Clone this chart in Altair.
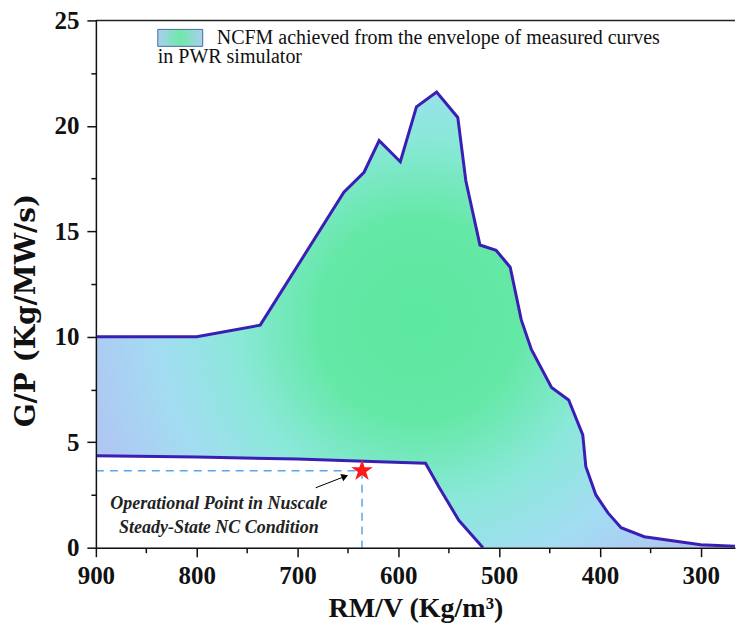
import altair as alt
import pandas as pd

# Upper envelope of the NCFM region (RM/V, G/P)
upper_x = [900, 800, 737, 654, 634, 619, 598, 582, 562, 541, 533, 519, 503, 489, 478, 468, 448, 431, 417, 414, 404, 392, 379, 356, 300, 260]
upper_y = [10.0, 10.0, 10.55, 16.85, 17.8, 19.3, 18.3, 20.9, 21.6, 20.4, 17.4, 14.35, 14.1, 13.3, 10.8, 9.4, 7.6, 7.0, 5.35, 3.85, 2.5, 1.65, 0.95, 0.52, 0.14, 0.05]

# Lower envelope
lower_x = [900, 800, 700, 619, 573, 560, 540, 516]
lower_y = [4.36, 4.3, 4.2, 4.07, 4.0, 2.9, 1.3, 0.0]

# Operational point
op_x = [636]
op_y = [3.65]

# Arrow (tail -> head)
arrow_x = [682, 654]
arrow_y = [2.84, 3.36]

annot_lines = ["Operational Point in Nuscale", "Steady-State NC Condition"]
legend_line1 = "NCFM achieved from the envelope of measured curves"
legend_line2 = "in PWR simulator"

x_ticks = [900, 800, 700, 600, 500, 400, 300]
x_minor = [850, 750, 650, 550, 450, 350]
y_ticks = [0, 5, 10, 15, 20, 25]
y_minor = [2.5, 7.5, 12.5, 17.5, 22.5]

W, H = 640, 528
OUTLINE = "#3b1fb5"
SERIF = "Liberation Serif"

up_df = pd.DataFrame({"x": upper_x, "y": upper_y, "z": [0.0] * len(upper_x)})
lo_df = pd.DataFrame({"x": lower_x, "y": lower_y, "z": [0.0] * len(lower_x)})
op_df = pd.DataFrame({"x": op_x, "y": op_y, "x0": [900], "z": [0.0]})
arr_df = pd.DataFrame({"x": arrow_x, "y": arrow_y, "o": [0, 1]})

xscale = alt.Scale(domain=[266, 900], reverse=True, nice=False, zero=False)
yscale = alt.Scale(domain=[0, 25], nice=False, zero=False)

major_x_axis = alt.Axis(values=x_ticks, title="RM/V (Kg/m³)", format="d", grid=False, labelFlush=False,
                        tickSize=9, labelPadding=7, titlePadding=6, zindex=2)
major_y_axis = alt.Axis(values=y_ticks, title="G/P (Kg/MW/s)", grid=False, labelFlush=False,
                        tickSize=9, labelPadding=8, titlePadding=13, zindex=2,
                        titleFont="DejaVu Serif", titleFontSize=28, titleY=290)


def X(field="x", ax=None):
    return alt.X(f"{field}:Q", scale=xscale, axis=ax)


def Y(field="y", ax=None):
    return alt.Y(f"{field}:Q", scale=yscale, axis=ax)


grad = alt.RadialGradient(
    gradient="radial",
    stops=[
        alt.GradientStop(color="#5ce89e", offset=0.0),
        alt.GradientStop(color="#64e8a6", offset=0.3),
        alt.GradientStop(color="#8be8da", offset=0.55),
        alt.GradientStop(color="#a3dcf2", offset=0.78),
        alt.GradientStop(color="#afc8f2", offset=1.0),
    ],
    x1=0.5, y1=0.5, r1=0.0, x2=0.5, y2=0.5, r2=0.52,
)

fill_area = alt.Chart(up_df).mark_area(fill=grad, clip=True).encode(
    x=X(ax=major_x_axis), y=Y(ax=major_y_axis), y2=alt.Y2("z:Q")
)
white_area = alt.Chart(lo_df).mark_area(fill="white", clip=True).encode(
    x=X(), y=Y(), y2=alt.Y2("z:Q")
)
up_line = alt.Chart(up_df).mark_line(color=OUTLINE, strokeWidth=3, clip=True).encode(x=X(), y=Y())
lo_line = alt.Chart(lo_df).mark_line(color=OUTLINE, strokeWidth=3, clip=True).encode(x=X(), y=Y())

h_dash = alt.Chart(op_df).mark_rule(color="#5aa6e6", strokeDash=[8, 6], strokeWidth=1.5).encode(
    x=X("x0"), x2=alt.X2("x:Q"), y=Y()
)
v_dash = alt.Chart(op_df).mark_rule(color="#5aa6e6", strokeDash=[8, 6], strokeWidth=1.5).encode(
    x=X(), y=Y(), y2=alt.Y2("z:Q")
)

star_path = "M0,-1L0.2245,-0.309L0.951,-0.309L0.363,0.118L0.588,0.809L0,0.382L-0.588,0.809L-0.363,0.118L-0.951,-0.309L-0.2245,-0.309Z"
star = alt.Chart(op_df).mark_point(shape=star_path, size=520, filled=True, color="#ff1a1a", opacity=1).encode(
    x=X(), y=Y()
)

arrow_line = alt.Chart(arr_df).mark_line(color="black", strokeWidth=1).encode(x=X(), y=Y(), order="o:Q")
arrow_head = alt.Chart(arr_df.iloc[[1]]).mark_point(shape="triangle", size=60, filled=True, color="black",
                                                   angle=68, opacity=1).encode(x=X(), y=Y())

annot_df = pd.DataFrame({"x": [778, 778], "y": [2.05, 0.95], "t": annot_lines})
annot = alt.Chart(annot_df).mark_text(font=SERIF, fontStyle="italic", fontWeight="bold", fontSize=18,
                                      color="#222222", align="center", baseline="middle").encode(
    x=X(), y=Y(), text="t:N"
)

legend_swatch = alt.Chart(pd.DataFrame({"a": [0]})).mark_rect(fill=alt.LinearGradient(
    gradient="linear",
    stops=[alt.GradientStop(color="#a9cff0", offset=0), alt.GradientStop(color="#6fe8a8", offset=0.5),
           alt.GradientStop(color="#a9cff0", offset=1)],
    x1=0, x2=1, y1=0, y2=0), stroke="#4a6a9a", strokeWidth=1).encode(
    x=alt.value(62), x2=alt.value(107), y=alt.value(9), y2=alt.value(26)
)
legend_t1 = alt.Chart(pd.DataFrame({"t": [legend_line1]})).mark_text(
    font=SERIF, fontSize=20, align="left", baseline="middle", color="#111111").encode(
    x=alt.value(121), y=alt.value(18), text="t:N")
legend_t2 = alt.Chart(pd.DataFrame({"t": [legend_line2]})).mark_text(
    font=SERIF, fontSize=20, align="left", baseline="middle", color="#111111").encode(
    x=alt.value(62), y=alt.value(37), text="t:N")

top_border = alt.Chart(pd.DataFrame({"a": [0]})).mark_rule(color="#222222", strokeWidth=1.5).encode(
    x=alt.value(0), x2=alt.value(W), y=alt.value(0)
)

minor = alt.Chart(pd.DataFrame({"x": [900], "y": [0]})).mark_point(opacity=0).encode(
    x=alt.X("x:Q", scale=xscale, axis=alt.Axis(values=x_minor, labels=False, tickSize=5, domain=False,
                                               grid=False, orient="bottom", title=None, zindex=2)),
    y=alt.Y("y:Q", scale=yscale, axis=alt.Axis(values=y_minor, labels=False, tickSize=5, domain=False,
                                               grid=False, orient="left", title=None, zindex=2)),
)

chart = alt.layer(
    fill_area, white_area, up_line, lo_line, h_dash, v_dash, arrow_line, arrow_head, star, annot,
    legend_swatch, legend_t1, legend_t2, top_border, minor
).resolve_axis(x="independent", y="independent").properties(
    width=W, height=H, padding={"left": 5, "top": 0, "right": 0, "bottom": 0}
).configure_view(stroke=None).configure_axis(
    domainColor="#111111", domainWidth=1.5, tickColor="#111111", tickWidth=1.5,
    labelFont=SERIF, labelFontWeight="bold", labelFontSize=25, labelColor="#111111",
    titleFont=SERIF, titleFontWeight="bold", titleFontSize=28, titleColor="#111111",
)

chart.save("out.html", embed_options={"renderer": "svg", "actions": False})
